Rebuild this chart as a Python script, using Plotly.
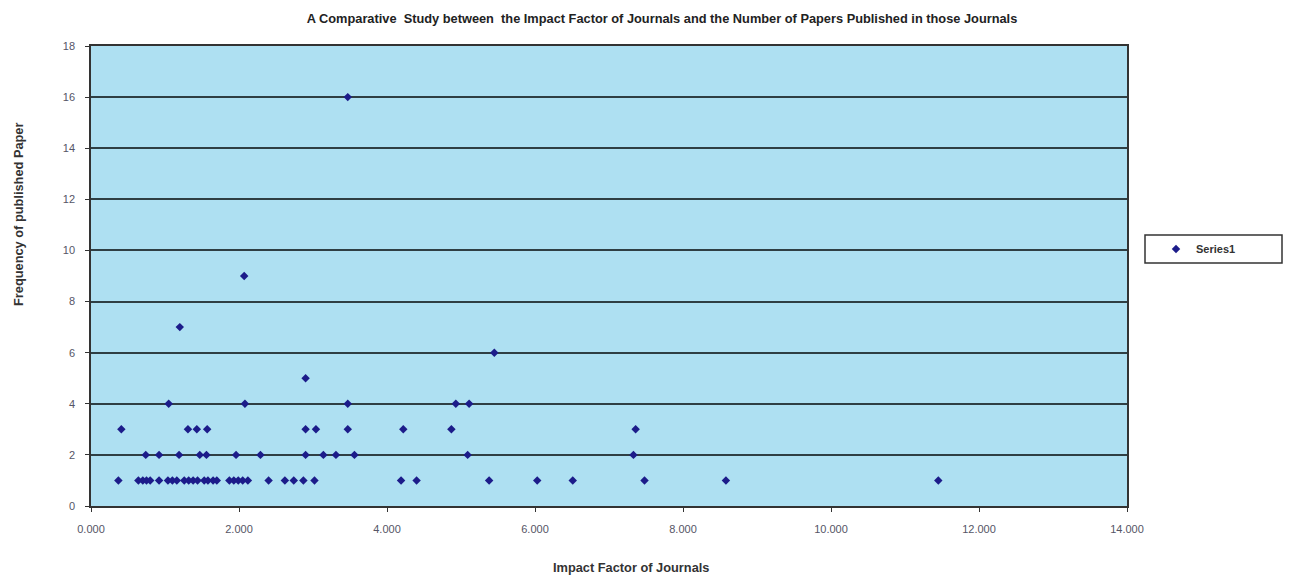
import plotly.graph_objects as go

# Impact factor (x) and number of papers (y)
impact_factor = [
    0.37, 0.64, 0.70, 0.75, 0.80, 0.92, 1.04, 1.10, 1.16, 1.26, 1.32, 1.38,
    1.44, 1.53, 1.58, 1.65, 1.70, 1.87, 1.93, 1.99, 2.05, 2.12, 2.40, 2.62,
    2.74, 2.87, 3.02, 4.19, 4.40, 5.38, 6.03, 6.51, 7.48, 8.58, 11.45,
    0.74, 0.92, 1.19, 1.47, 1.56, 1.96, 2.29, 2.90, 3.14, 3.31, 3.56, 5.09, 7.33,
    0.41, 1.31, 1.43, 1.57, 2.90, 3.04, 3.47, 4.22, 4.87, 7.36,
    1.05, 2.08, 3.47, 4.93, 5.11,
    2.90, 5.45, 1.20, 2.07, 3.47,
]
papers = (
    [1] * 35
    + [2] * 13
    + [3] * 10
    + [4] * 5
    + [5, 6, 7, 9, 16]
)

x_ticks = [0, 2, 4, 6, 8, 10, 12, 14]
x_tick_labels = ["0.000", "2.000", "4.000", "6.000", "8.000", "10.000", "12.000", "14.000"]

# page has an 8px body margin, so the figure is drawn 8px in from the corner
OFF = 8
W, H = 1292 - OFF, 575 - OFF
L, R, T, B = 91 - OFF, 165, 46 - OFF, 69
pw, ph = W - L - R, H - T - B


def px(x):  # page pixel -> paper x
    return (x - OFF - L) / pw


def py(y):  # page pixel -> paper y
    return (H - B - (y - OFF)) / ph


fig = go.Figure()
fig.add_trace(go.Scatter(
    x=impact_factor, y=papers, mode="markers", name="<b>Series1</b>",
    marker=dict(symbol="diamond", size=6.5, color="#1c1c8a"),
))

font = "Liberation Sans, Arial, sans-serif"

fig.update_layout(
    width=W, height=H,
    margin=dict(l=L, r=R, t=T, b=B),
    paper_bgcolor="white",
    plot_bgcolor="#aee0f2",
    font=dict(family=font, size=11, color="#555566"),
    showlegend=True,
    legend=dict(
        x=px(1156), y=py(249), xanchor="left", yanchor="middle",
        bgcolor="rgba(0,0,0,0)", borderwidth=0,
        font=dict(size=11, color="#333333", family=font),
        itemwidth=30,
    ),
    title=dict(
        text="<b>A Comparative  Study between  the Impact Factor of Journals and the Number of Papers Published in those Journals</b>",
        x=px(662), xanchor="center", xref="paper",
        y=1 - (19 - OFF) / H, yanchor="middle", yref="container",
        font=dict(size=12.8, color="#222222", family=font),
    ),
    shapes=[
        dict(type="rect", xref="paper", yref="paper",
             x0=px(1145), x1=px(1282), y0=py(263), y1=py(235),
             line=dict(color="#333333", width=1.5), fillcolor="white", layer="below"),
    ],
    annotations=[
        dict(text="<b>Impact Factor of Journals</b>", xref="paper", yref="paper",
             x=px(631), y=py(567), xanchor="center", yanchor="middle", showarrow=False,
             font=dict(size=12.8, color="#333333", family=font)),
        dict(text="<b>Frequency of published Paper</b>", xref="paper", yref="paper",
             x=px(18), y=py(215), xanchor="center", yanchor="middle", showarrow=False,
             textangle=-90, font=dict(size=12.8, color="#333333", family=font)),
    ],
)

fig.update_xaxes(
    range=[0, 14], tickvals=x_ticks, ticktext=x_tick_labels,
    showgrid=False, zeroline=False,
    showline=True, linecolor="#333333", linewidth=1.5, mirror=True,
    ticks="outside", ticklen=4, tickcolor="#333333", ticklabelstandoff=8,
)
fig.update_yaxes(
    range=[0, 18], dtick=2,
    showgrid=True, gridcolor="#2f3f44", gridwidth=2.2, zeroline=False,
    showline=True, linecolor="#333333", linewidth=1.5, mirror=True,
    ticks="outside", ticklen=4, tickcolor="#333333", ticklabelstandoff=8,
)

fig.write_html("out.html")
